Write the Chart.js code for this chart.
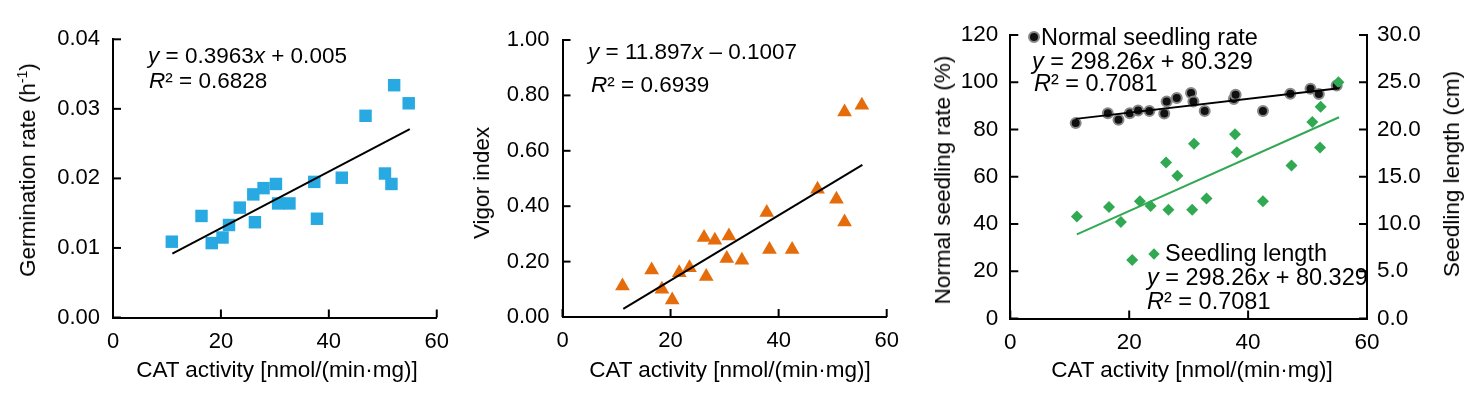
<!DOCTYPE html>
<html>
<head>
<meta charset="utf-8">
<script src="https://cdn.jsdelivr.net/npm/chart.js@4.4.1/dist/chart.umd.min.js"></script>
<style>
html, body { margin: 0; padding: 0; background: #fff; }
#wrap { position: relative; width: 1476px; height: 396px; overflow: hidden;
        font-family: 'Liberation Sans', Arial, sans-serif; color: #000; }
canvas { position: absolute; top: 0; }
.txt { position: absolute; white-space: nowrap; font-size: 22.5px; line-height: 22px; }
.big { font-size: 23.5px; line-height: 23px; }
.ttl { position: absolute; white-space: nowrap; font-size: 22.5px; line-height: 22px;
       transform: translate(-50%, -50%); }
.rot { transform: translate(-50%, -50%) rotate(-90deg); }
sup { font-size: 14px; line-height: 0; vertical-align: 8px; }
.dot { position: absolute; width: 8px; height: 8px; border-radius: 50%; background: #111;
       border: 2px solid #888; transform: translate(-50%, -50%); }
.dia { position: absolute; width: 8px; height: 8px; background: #31a952;
       transform: translate(-50%, -50%) rotate(45deg); }
</style>
</head>
<body>
<div id="wrap">
  <canvas id="germ" width="460" height="396" style="left:0px"></canvas>
  <canvas id="vigor" width="450" height="396" style="left:460px"></canvas>
  <canvas id="seedling" width="566" height="396" style="left:910px"></canvas>

  <!-- panel 1 -->
  <div class="ttl rot" style="left:28px;top:170px">Germination rate (h<sup>-1</sup>)</div>
  <div class="ttl" style="left:277px;top:370px">CAT activity [nmol/(min·mg)]</div>
  <div class="txt" style="left:148px;top:45px"><i>y</i> = 0.3963<i>x</i> + 0.005</div>
  <div class="txt" style="left:149px;top:70px"><i>R</i>² = 0.6828</div>

  <!-- panel 2 -->
  <div class="ttl rot" style="left:482px;top:183px">Vigor index</div>
  <div class="ttl" style="left:730px;top:370px">CAT activity [nmol/(min·mg)]</div>
  <div class="txt" style="left:588px;top:41px"><i>y</i> = 11.897<i>x</i> – 0.1007</div>
  <div class="txt" style="left:591px;top:74px"><i>R</i>² = 0.6939</div>

  <!-- panel 3 -->
  <div class="ttl rot big" style="left:943px;top:180px">Normal seedling rate (%)</div>
  <div class="ttl rot big" style="left:1452px;top:174px">Seedling length (cm)</div>
  <div class="ttl big" style="left:1192px;top:370px">CAT activity [nmol/(min·mg)]</div>
  <div class="dot" style="left:1034px;top:37px"></div>
  <div class="txt big" style="left:1041px;top:26px">Normal seedling rate</div>
  <div class="txt big" style="left:1032px;top:50px"><i>y</i> = 298.26<i>x</i> + 80.329</div>
  <div class="txt big" style="left:1034px;top:72px"><i>R</i>² = 0.7081</div>
  <div class="dia" style="left:1154px;top:254px"></div>
  <div class="txt big" style="left:1165px;top:242px">Seedling length</div>
  <div class="txt big" style="left:1147px;top:266px"><i>y</i> = 298.26<i>x</i> + 80.329</div>
  <div class="txt big" style="left:1147px;top:290px"><i>R</i>² = 0.7081</div>
</div>

<script>
// ---- data ----
const germCat  = [10.9, 16.4, 18.3, 20.3, 21.5, 23.5, 26.0, 26.3, 27.9, 30.2, 30.6, 32.7, 37.3, 37.8, 42.4, 46.8, 50.4, 51.6, 52.1, 54.8];
const germRate = [0.0109, 0.0146, 0.0107, 0.0115, 0.0133, 0.0158, 0.0177, 0.0137, 0.0186, 0.0192, 0.0164, 0.0164, 0.0195, 0.0142, 0.0201, 0.0290, 0.0207, 0.0192, 0.0334, 0.0308];
const germFitCat  = [11.0, 55.0];
const germFitRate = [0.0092, 0.0271];

const vigorCat = [11.1, 16.5, 18.4, 20.3, 21.6, 23.5, 26.2, 26.6, 28.2, 30.8, 30.4, 33.2, 37.8, 38.3, 42.5, 47.2, 50.7, 52.2, 52.2, 55.4];
const vigorIdx = [0.112, 0.170, 0.100, 0.061, 0.160, 0.178, 0.287, 0.146, 0.277, 0.292, 0.211, 0.205, 0.377, 0.244, 0.244, 0.461, 0.425, 0.343, 0.740, 0.764];
const vigorFitCat = [11.25, 55.5];
const vigorFitIdx = [0.029, 0.549];

const normalCat  = [11.0, 16.4, 18.2, 20.1, 21.5, 23.4, 25.9, 26.3, 28.0, 30.4, 30.8, 32.7, 37.6, 37.9, 42.5, 47.1, 50.5, 51.9, 54.9];
const normalRate = [82.7, 86.9, 84.1, 86.9, 88.0, 87.8, 86.8, 91.9, 93.3, 95.4, 91.9, 87.8, 92.9, 94.7, 87.8, 95.1, 97.2, 95.0, 98.6];
const normalFitCat  = [11.0, 55.3];
const normalFitRate = [84.5, 97.5];

const lengthCat  = [11.2, 16.6, 18.6, 20.5, 21.8, 23.6, 26.2, 26.6, 28.1, 30.6, 30.9, 33.0, 37.8, 38.1, 42.5, 47.3, 50.8, 52.1, 52.2, 55.2];
const seedLength = [10.8, 11.8, 10.2, 6.2, 12.4, 11.9, 16.5, 11.5, 15.1, 11.5, 18.5, 12.7, 19.5, 17.6, 12.4, 16.2, 20.8, 18.1, 22.4, 25.0];
const lengthFitCat = [11.2, 55.3];
const lengthFitCm  = [8.9, 21.3];

const xMin = 0, xMax = 60, xStep = 20;

// ---- helpers ----
const FONT = "'Liberation Sans', Arial, sans-serif";
const pts = (xs, ys) => xs.map((x, i) => ({x: x, y: ys[i]}));

// Excel-style tick marks pointing into the plot
const innerTicks = {
    id: 'innerTicks',
    afterDraw(chart) {
        const ctx = chart.ctx;
        ctx.save();
        ctx.strokeStyle = '#000';
        ctx.lineWidth = 2;
        Object.values(chart.scales).forEach(s => {
            s.ticks.forEach((t, i) => {
                const p = s.getPixelForTick(i);
                ctx.beginPath();
                if (s.axis === 'x') {
                    ctx.moveTo(p, s.top); ctx.lineTo(p, s.top - 8);
                } else if (s.position === 'left') {
                    ctx.moveTo(s.right, p); ctx.lineTo(s.right + 8, p);
                } else {
                    ctx.moveTo(s.left, p); ctx.lineTo(s.left - 8, p);
                }
                ctx.stroke();
            });
        });
        ctx.restore();
    }
};

function xAxis(height, size) {
    return {
        type: 'linear', min: xMin, max: xMax,
        ticks: {stepSize: xStep, color: '#000', font: {family: FONT, size: size}, padding: 11},
        grid: {display: false, drawTicks: false},
        border: {color: '#000', width: 2},
        afterFit: s => { s.height = height; }
    };
}

function yAxis(pos, min, max, step, digits, width, size, pad) {
    return {
        type: 'linear', position: pos, min: min, max: max,
        ticks: {stepSize: step, color: '#000', font: {family: FONT, size: size}, padding: pad,
                callback: v => v.toFixed(digits)},
        grid: {display: false, drawTicks: false},
        border: {color: '#000', width: 2},
        afterFit: s => { s.width = width; }
    };
}

function markers(data, style, radius, fill, border, bw, order, yID) {
    return {type: 'scatter', data: data, pointStyle: style, pointRadius: radius, pointHoverRadius: radius,
            backgroundColor: fill, borderColor: border, borderWidth: bw, order: order,
            yAxisID: yID || 'y', clip: false};
}

function trend(data, color, yID) {
    return {type: 'line', data: data, borderColor: color, borderWidth: 2, pointRadius: 0,
            fill: false, order: 0, yAxisID: yID || 'y', clip: false};
}

const baseOptions = (padding, scales) => ({
    responsive: false,
    animation: false,
    devicePixelRatio: 1,
    layout: {autoPadding: false, padding: padding},
    plugins: {legend: {display: false}, tooltip: {enabled: false}},
    scales: scales
});

// ---- panel 1: germination rate ----
new Chart(document.getElementById('germ').getContext('2d'), {
    type: 'scatter',
    data: {datasets: [
        trend(pts(germFitCat, germFitRate), '#000'),
        markers(pts(germCat, germRate), 'rect', 8.8, '#29a9e1', '#29a9e1', 0, 1)
    ]},
    options: baseOptions({left: 0, top: 39.3, right: 20.7, bottom: 0}, {
        x: xAxis(78.5, 22),
        y: yAxis('left', 0, 0.04, 0.01, 2, 113, 22, 13)
    }),
    plugins: [innerTicks]
});

// ---- panel 2: vigor index ----
new Chart(document.getElementById('vigor').getContext('2d'), {
    type: 'scatter',
    data: {datasets: [
        trend(pts(vigorFitCat, vigorFitIdx), '#000'),
        markers(pts(vigorCat, vigorIdx), 'triangle', 8.5, '#e46c0a', '#e46c0a', 0, 1)
    ]},
    options: baseOptions({left: 0, top: 40, right: 23.3, bottom: 0}, {
        x: xAxis(79, 22),
        y: yAxis('left', 0, 1, 0.2, 2, 102.5, 22, 13)
    }),
    plugins: [innerTicks]
});

// ---- panel 3: normal seedling rate + seedling length ----
new Chart(document.getElementById('seedling').getContext('2d'), {
    type: 'scatter',
    data: {datasets: [
        trend(pts(normalFitCat, normalFitRate), '#000'),
        trend(pts(lengthFitCat, lengthFitCm), '#31a952', 'y2'),
        markers(pts(lengthCat, seedLength), 'rectRot', 6, '#31a952', '#31a952', 0, 1, 'y2'),
        markers(pts(normalCat, normalRate), 'circle', 5, '#111', '#888', 2, 2)
    ]},
    options: baseOptions({left: 0, top: 35, right: 0, bottom: 0}, {
        x: xAxis(77.5, 22.5),
        y: yAxis('left', 0, 120, 20, 0, 100.3, 22.5, 12),
        y2: yAxis('right', 0, 30, 5, 1, 109, 22.5, 10)
    }),
    plugins: [innerTicks]
});
</script>
</body>
</html>
